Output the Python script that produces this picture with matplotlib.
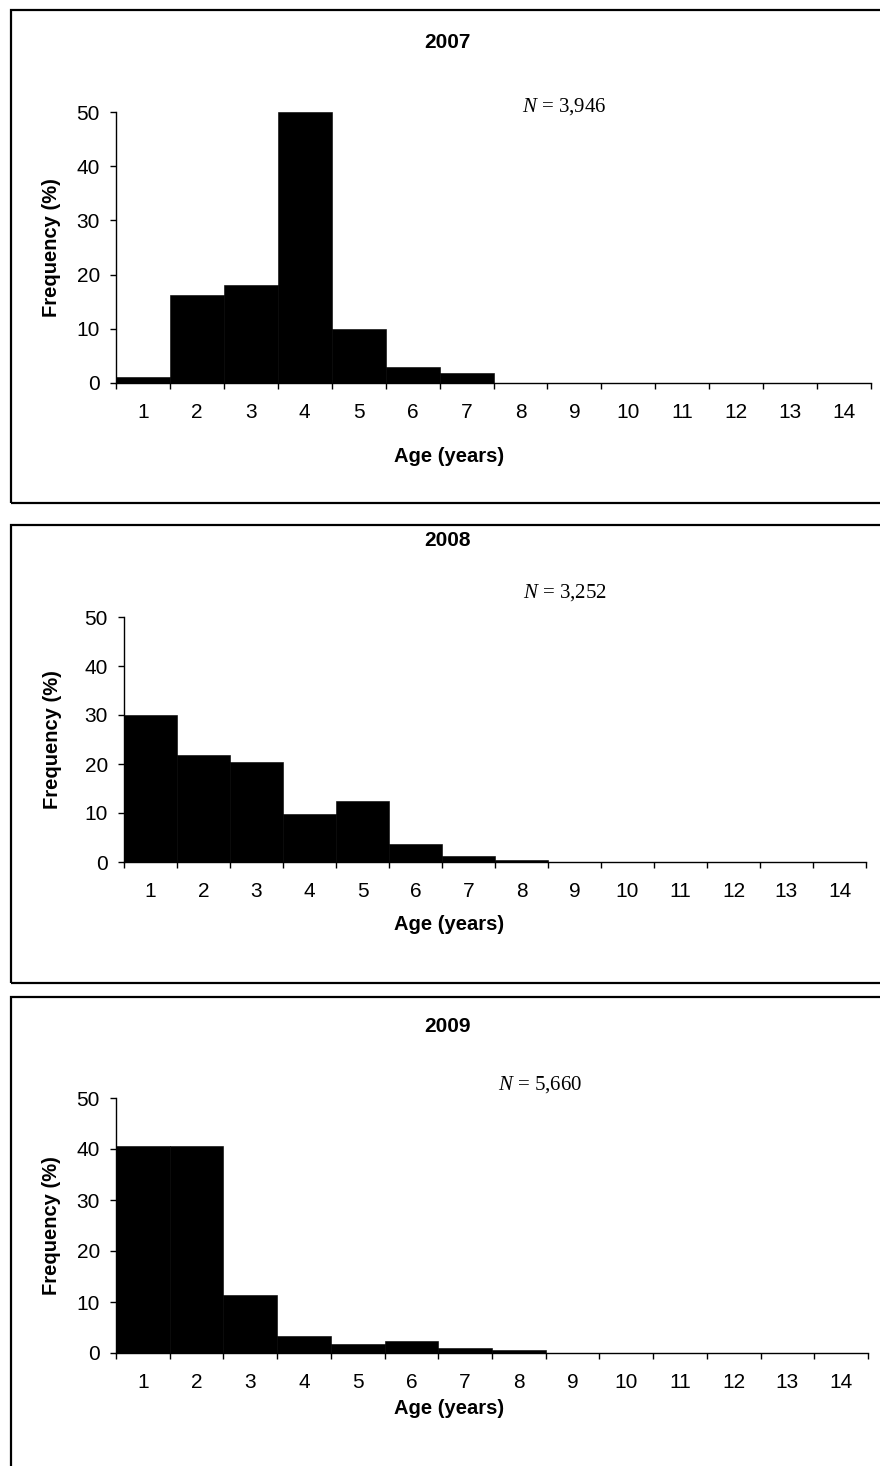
import matplotlib
matplotlib.use("Agg")
import matplotlib.pyplot as plt
from matplotlib.patches import Rectangle
from matplotlib.ticker import FixedLocator, NullFormatter
import numpy as np

plt.rcParams['font.family'] = ['Liberation Sans', 'DejaVu Sans']
plt.rcParams['mathtext.fontset'] = 'custom'
plt.rcParams['mathtext.it'] = 'Liberation Serif:italic'
plt.rcParams['mathtext.rm'] = 'Liberation Serif'

ages = list(range(1, 15))
freq_2007 = [1.1, 16.2, 18.0, 50.0, 10.0, 2.9, 1.8, 0, 0, 0, 0, 0, 0, 0]
freq_2008 = [30.0, 21.8, 20.4, 9.8, 12.4, 3.6, 1.2, 0.4, 0, 0, 0, 0, 0, 0]
freq_2009 = [40.6, 40.6, 11.4, 3.4, 1.8, 2.3, 1.0, 0.5, 0, 0, 0, 0, 0, 0]
years = ["2007", "2008", "2009"]
sample_sizes = ["3,946", "3,252", "5,660"]

W, H = 880, 1466
fig = plt.figure(figsize=(W / 100, H / 100), dpi=100)

def fx(px):
    return px / W

def fy(py):
    return 1 - py / H

# pixel layout of each panel
panels = [
    dict(left=116, right=871, y0=383, y50=112, top=10, bottom=503, title=42, nx=522, ny=107, xlab=457),
    dict(left=124, right=866, y0=862, y50=617, top=525, bottom=983, title=541, nx=523, ny=593, xlab=924),
    dict(left=116, right=868, y0=1353, y50=1098, top=997, bottom=1480, title=1027, nx=498, ny=1085, xlab=1409),
]
series = [freq_2007, freq_2008, freq_2009]

for p, freqs, year, n in zip(panels, series, years, sample_sizes):
    # panel frame
    fig.patches.append(Rectangle((fx(11), fy(p['bottom'])), fx(900 - 11), (p['bottom'] - p['top']) / H,
                                 transform=fig.transFigure, fill=False, edgecolor='black', linewidth=1.6))
    ax_w = p['right'] - p['left']
    ax_h = p['y0'] - p['y50']
    ax = fig.add_axes([fx(p['left']), fy(p['y0']), ax_w / W, ax_h / H])
    ax.bar(ages, freqs, width=1.0, color='black', edgecolor='black', linewidth=0.4)
    ax.set_xlim(0.5, 14.5)
    ax.set_ylim(0, 50)
    ax.set_yticks([0, 10, 20, 30, 40, 50])
    ax.set_xticks(ages)
    ax.xaxis.set_minor_locator(FixedLocator(np.arange(0.5, 15, 1)))
    ax.xaxis.set_minor_formatter(NullFormatter())
    ax.tick_params(axis='x', which='major', length=0, pad=14.5, labelsize=15)
    ax.tick_params(axis='x', which='minor', length=4.5, width=1.0, direction='out')
    ax.tick_params(axis='y', length=4.5, width=1.0, direction='out', pad=7, labelsize=15)
    for s in ['top', 'right']:
        ax.spines[s].set_visible(False)
    for s in ['left', 'bottom']:
        ax.spines[s].set_linewidth(1.0)
    ax.set_xlabel('Age (years)', fontweight='bold', fontsize=14.5)
    ax.set_ylabel('Frequency (%)', fontweight='bold', fontsize=14.5)
    ax.xaxis.label.set_va('center')
    ax.yaxis.label.set_va('center')
    ax.xaxis.set_label_coords((449 - p['left']) / ax_w, -(p['xlab'] - p['y0']) / ax_h)
    ax.yaxis.set_label_coords(-(p['left'] - 52) / ax_w, 0.5)
    fig.text(fx(447), fy(p['title']), year, ha='center', va='center', fontweight='bold', fontsize=15)
    fig.text(fx(p['nx']), fy(p['ny']), '$N$ = ' + n, ha='left', va='center',
             family='Liberation Serif', fontsize=15)

fig.savefig('out.png', dpi=100)
